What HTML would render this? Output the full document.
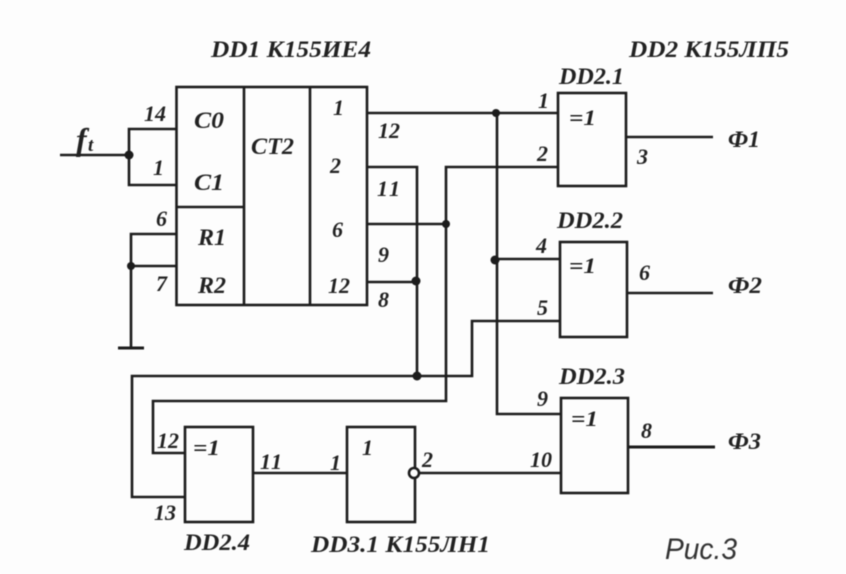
<!DOCTYPE html>
<html>
<head>
<meta charset="utf-8">
<style>
html,body{margin:0;padding:0;background:#fdfdfd;width:846px;height:574px;overflow:hidden}
svg{display:block;filter:blur(0.55px)}
text{font-family:"Liberation Serif","Noto Serif CJK SC",serif;font-weight:bold;font-style:italic;font-size:23px;fill:#222}
.t{font-size:22px}
</style>
</head>
<body>
<svg width="846" height="574" viewBox="0 0 846 574" xmlns="http://www.w3.org/2000/svg">
<rect width="846" height="574" fill="#fdfdfd"/>
<g fill="none" stroke="#1c1c1c" stroke-width="2.600">
<!-- DD1 -->
<rect x="176.500" y="87" width="190.500" height="218"/>
<path d="M244 87V305M310 87V305M176 207H244"/>
<!-- inputs -->
<path d="M60 155H129M176 129H129V185H176" />
<path d="M176 234H131V348M131 266H176"/>
<path d="M118 348H144" stroke-width="3"/>
<!-- outputs -->
<path d="M367 113H558"/>
<path d="M367 167H417V376"/>
<path d="M367 224H446"/>
<path d="M367 282H416"/>
<path d="M497 113V414H561"/>
<path d="M495 259H560"/>
<path d="M558 167H446V401H153V453H185"/>
<path d="M560 321H472V376H132V497H185"/>
<!-- gates -->
<rect x="558" y="93" width="68" height="93"/>
<rect x="560" y="242" width="67" height="95"/>
<rect x="561" y="398" width="67" height="95"/>
<rect x="185" y="427" width="68" height="95"/>
<rect x="347" y="427" width="68" height="95"/>
<path d="M626 137H713M627 293H713"/>
<path d="M628 447H715" stroke-width="3"/>
<path d="M253 473H347M419 473H561"/>
</g>
<circle cx="414" cy="473" r="5" fill="#fdfdfd" stroke="#1c1c1c" stroke-width="2.600"/>
<g fill="#1c1c1c">
<circle cx="129" cy="155" r="4.500"/>
<circle cx="131" cy="266" r="4"/>
<circle cx="446" cy="224" r="4"/>
<circle cx="416" cy="281" r="4.500"/>
<circle cx="417" cy="376" r="4.500"/>
<circle cx="496" cy="113" r="4"/>
<circle cx="495" cy="260" r="4.500"/>
</g>
<text x="211" y="57" textLength="160" lengthAdjust="spacingAndGlyphs">DD1 К155ИЕ4</text>
<text x="629" y="57" textLength="160" lengthAdjust="spacingAndGlyphs">DD2 К155ЛП5</text>
<text x="559" y="84" textLength="65" lengthAdjust="spacingAndGlyphs">DD2.1</text>
<text x="557" y="228" textLength="66" lengthAdjust="spacingAndGlyphs">DD2.2</text>
<text x="559" y="384" textLength="66" lengthAdjust="spacingAndGlyphs">DD2.3</text>
<text x="184" y="550" textLength="66" lengthAdjust="spacingAndGlyphs">DD2.4</text>
<text x="311" y="552" textLength="179" lengthAdjust="spacingAndGlyphs">DD3.1 К155ЛН1</text>
<text x="76" y="150" style="font-size:32px">f</text>
<text x="88" y="151" style="font-size:19px">t</text>
<text class="t" x="144" y="121">14</text>
<text class="t" x="153" y="175">1</text>
<text class="t" x="156" y="226">6</text>
<text class="t" x="156" y="291">7</text>
<text x="194" y="128" textLength="30" lengthAdjust="spacingAndGlyphs">C0</text>
<text x="194" y="190" textLength="30" lengthAdjust="spacingAndGlyphs">C1</text>
<text x="198" y="245" textLength="28" lengthAdjust="spacingAndGlyphs">R1</text>
<text x="198" y="293" textLength="28" lengthAdjust="spacingAndGlyphs">R2</text>
<text x="251" y="154" textLength="43" lengthAdjust="spacingAndGlyphs">CT2</text>
<text class="t" x="333" y="115">1</text>
<text class="t" x="330" y="173">2</text>
<text class="t" x="332" y="237">6</text>
<text class="t" x="328" y="293">12</text>
<text class="t" x="378" y="138">12</text>
<text class="t" x="377" y="196" textLength="23">11</text>
<text class="t" x="378" y="262">9</text>
<text class="t" x="378" y="307">8</text>
<text class="t" x="538" y="108">1</text>
<text class="t" x="537" y="161">2</text>
<text class="t" x="536" y="253">4</text>
<text class="t" x="537" y="315">5</text>
<text class="t" x="537" y="406">9</text>
<text class="t" x="530" y="467">10</text>
<text class="t" x="637" y="164">3</text>
<text class="t" x="639" y="280">6</text>
<text class="t" x="641" y="438">8</text>
<text class="t" x="569" y="125" textLength="27" lengthAdjust="spacingAndGlyphs">=1</text>
<text class="t" x="569" y="273" textLength="27" lengthAdjust="spacingAndGlyphs">=1</text>
<text class="t" x="571" y="426" textLength="27" lengthAdjust="spacingAndGlyphs">=1</text>
<text class="t" x="193" y="455" textLength="27" lengthAdjust="spacingAndGlyphs">=1</text>
<text class="t" x="362" y="455">1</text>
<text x="728" y="147" textLength="32" lengthAdjust="spacingAndGlyphs">Ф1</text>
<text x="728" y="293" textLength="34" lengthAdjust="spacingAndGlyphs">Ф2</text>
<text x="728" y="449" textLength="33" lengthAdjust="spacingAndGlyphs">Ф3</text>
<text class="t" x="157" y="448">12</text>
<text class="t" x="154" y="520">13</text>
<text class="t" x="260" y="469" textLength="22">11</text>
<text class="t" x="330" y="470">1</text>
<text class="t" x="422" y="467">2</text>
<text x="665" y="559" textLength="72" lengthAdjust="spacingAndGlyphs" style="font-family:'Liberation Sans',sans-serif;font-weight:normal;font-style:italic;font-size:30px;fill:#333">Рис.3</text>
</svg>
</body>
</html>
